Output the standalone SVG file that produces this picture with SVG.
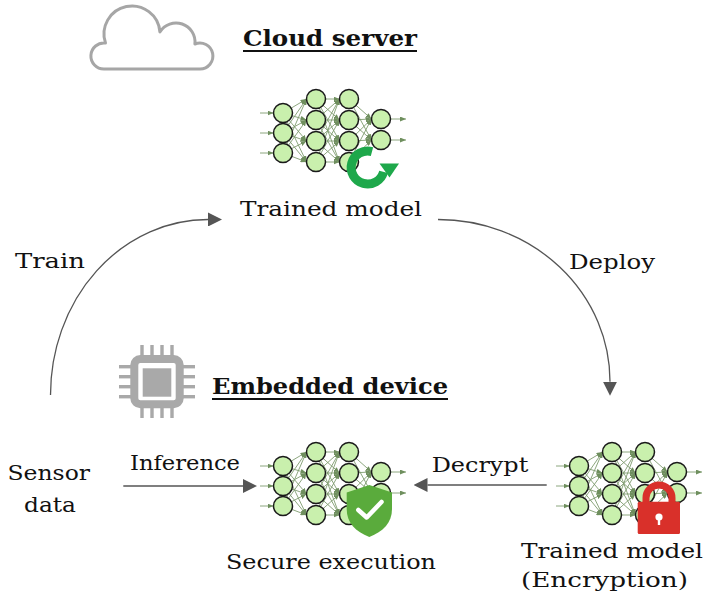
<svg xmlns="http://www.w3.org/2000/svg" xmlns:xlink="http://www.w3.org/1999/xlink" width="706" height="601" viewBox="0 0 706 601">
  <style>
    .lbl { font-family: "DejaVu Serif", "Liberation Serif", serif; font-size: 21px; fill: #111; }
    .ttl { font-family: "DejaVu Serif", "Liberation Serif", serif; font-size: 23px; font-weight: bold; fill: #111; }
    .uline { stroke: #111; stroke-width: 1.8; }
    .conn { fill: none; stroke: #555; stroke-width: 1.3; }
    .edge { stroke: #7f9c6f; stroke-width: 0.9; marker-end: url(#nnHead); }
    .neuron { fill: #c9f0ad; stroke: #1a1a1a; stroke-width: 1.5; }
    .icon { fill: #a9a9a9; }
  </style>
  <defs>
    <marker id="head" markerUnits="userSpaceOnUse" markerWidth="14" markerHeight="14" refX="0" refY="7" orient="auto">
      <path d="M0,0 L14,7 L0,14 Z" fill="#555"/>
    </marker>
    <marker id="nnHead" markerUnits="userSpaceOnUse" markerWidth="6" markerHeight="5" refX="6" refY="2.5" orient="auto">
      <path d="M0,0 L6,2.5 L0,5 Z" fill="#6f8f5e"/>
    </marker>
    <!-- small fully connected network: 3-4-4-2 -->
    <g id="net">
      <!-- inputs -->
      <line class="edge" x1="260" y1="113" x2="273.5" y2="113"/>
      <line class="edge" x1="260" y1="133" x2="273.5" y2="133"/>
      <line class="edge" x1="260" y1="153" x2="273.5" y2="153"/>
      <!-- layer 1 to layer 2 -->
      <line class="edge" x1="283" y1="113" x2="306.5" y2="99"/>
      <line class="edge" x1="283" y1="113" x2="306.5" y2="120"/>
      <line class="edge" x1="283" y1="113" x2="306.5" y2="141"/>
      <line class="edge" x1="283" y1="113" x2="306.5" y2="162"/>
      <line class="edge" x1="283" y1="133" x2="306.5" y2="99"/>
      <line class="edge" x1="283" y1="133" x2="306.5" y2="120"/>
      <line class="edge" x1="283" y1="133" x2="306.5" y2="141"/>
      <line class="edge" x1="283" y1="133" x2="306.5" y2="162"/>
      <line class="edge" x1="283" y1="153" x2="306.5" y2="99"/>
      <line class="edge" x1="283" y1="153" x2="306.5" y2="120"/>
      <line class="edge" x1="283" y1="153" x2="306.5" y2="141"/>
      <line class="edge" x1="283" y1="153" x2="306.5" y2="162"/>
      <!-- layer 2 to layer 3 -->
      <line class="edge" x1="316" y1="99" x2="339.5" y2="99"/>
      <line class="edge" x1="316" y1="99" x2="339.5" y2="120"/>
      <line class="edge" x1="316" y1="99" x2="339.5" y2="141"/>
      <line class="edge" x1="316" y1="99" x2="339.5" y2="162"/>
      <line class="edge" x1="316" y1="120" x2="339.5" y2="99"/>
      <line class="edge" x1="316" y1="120" x2="339.5" y2="120"/>
      <line class="edge" x1="316" y1="120" x2="339.5" y2="141"/>
      <line class="edge" x1="316" y1="120" x2="339.5" y2="162"/>
      <line class="edge" x1="316" y1="141" x2="339.5" y2="99"/>
      <line class="edge" x1="316" y1="141" x2="339.5" y2="120"/>
      <line class="edge" x1="316" y1="141" x2="339.5" y2="141"/>
      <line class="edge" x1="316" y1="141" x2="339.5" y2="162"/>
      <line class="edge" x1="316" y1="162" x2="339.5" y2="99"/>
      <line class="edge" x1="316" y1="162" x2="339.5" y2="120"/>
      <line class="edge" x1="316" y1="162" x2="339.5" y2="141"/>
      <line class="edge" x1="316" y1="162" x2="339.5" y2="162"/>
      <!-- layer 3 to layer 4 -->
      <line class="edge" x1="349" y1="99" x2="371.5" y2="119"/>
      <line class="edge" x1="349" y1="99" x2="371.5" y2="140"/>
      <line class="edge" x1="349" y1="120" x2="371.5" y2="119"/>
      <line class="edge" x1="349" y1="120" x2="371.5" y2="140"/>
      <line class="edge" x1="349" y1="141" x2="371.5" y2="119"/>
      <line class="edge" x1="349" y1="141" x2="371.5" y2="140"/>
      <line class="edge" x1="349" y1="162" x2="371.5" y2="119"/>
      <line class="edge" x1="349" y1="162" x2="371.5" y2="140"/>
      <!-- outputs -->
      <line class="edge" x1="390.5" y1="119" x2="406" y2="119"/>
      <line class="edge" x1="390.5" y1="140" x2="406" y2="140"/>
      <!-- neurons -->
      <circle class="neuron" cx="283" cy="113" r="9.5"/>
      <circle class="neuron" cx="283" cy="133" r="9.5"/>
      <circle class="neuron" cx="283" cy="153" r="9.5"/>
      <circle class="neuron" cx="316" cy="99" r="9.5"/>
      <circle class="neuron" cx="316" cy="120" r="9.5"/>
      <circle class="neuron" cx="316" cy="141" r="9.5"/>
      <circle class="neuron" cx="316" cy="162" r="9.5"/>
      <circle class="neuron" cx="349" cy="99" r="9.5"/>
      <circle class="neuron" cx="349" cy="120" r="9.5"/>
      <circle class="neuron" cx="349" cy="141" r="9.5"/>
      <circle class="neuron" cx="349" cy="162" r="9.5"/>
      <circle class="neuron" cx="381" cy="119" r="9.5"/>
      <circle class="neuron" cx="381" cy="140" r="9.5"/>
    </g>
  </defs>

  <rect width="706" height="601" fill="#fff"/>

  <!-- cloud side -->
  <g id="cloud-server">
    <path d="M104,69 A13,13 0 1 1 105.5,43.1 A28,28 0 1 1 159.9,31.9 A19,19 0 0 1 194.9,44 A13,13 0 1 1 200,69 Z" fill="none" stroke="#a6a6a6" stroke-width="3" stroke-linejoin="round"/>
    <text class="ttl" x="243" y="46" textLength="174" lengthAdjust="spacingAndGlyphs">Cloud server</text>
    <line class="uline" x1="243" y1="51" x2="417" y2="51"/>
  </g>

  <g id="trained-model">
    <use xlink:href="#net"/>
    <!-- update / refresh badge -->
    <path d="M372,151.6 A16.5,16.5 0 1 0 383.6,171.8" fill="none" stroke="#1ea84b" stroke-width="9"/>
    <path d="M379.5,163.5 L399,163.5 L389.5,177.5 Z" fill="#1ea84b"/>
    <!-- labels use a slightly widened serif face -->
    <g transform="scale(1.15,1)">
      <text class="lbl" x="208.7" y="216" textLength="158.3" lengthAdjust="spacingAndGlyphs">Trained model</text>
    </g>
  </g>

  <!-- device side -->
  <g id="embedded-device">
    <g class="icon">
      <rect x="134.3" y="359" width="45.4" height="45.3" rx="6" fill="none" stroke="#a9a9a9" stroke-width="8"/>
      <rect x="142.7" y="368.3" width="28.6" height="28.4"/>
      <rect x="140.3" y="345" width="3.4" height="11"/>
      <rect x="150.3" y="345" width="3.4" height="11"/>
      <rect x="160.3" y="345" width="3.4" height="11"/>
      <rect x="170.3" y="345" width="3.4" height="11"/>
      <rect x="140.3" y="407" width="3.4" height="11"/>
      <rect x="150.3" y="407" width="3.4" height="11"/>
      <rect x="160.3" y="407" width="3.4" height="11"/>
      <rect x="170.3" y="407" width="3.4" height="11"/>
      <rect x="119" y="365" width="12" height="3.4"/>
      <rect x="119" y="375" width="12" height="3.4"/>
      <rect x="119" y="385" width="12" height="3.4"/>
      <rect x="119" y="395" width="12" height="3.4"/>
      <rect x="183" y="365" width="12" height="3.4"/>
      <rect x="183" y="375" width="12" height="3.4"/>
      <rect x="183" y="385" width="12" height="3.4"/>
      <rect x="183" y="395" width="12" height="3.4"/>
    </g>
    <text class="ttl" x="212" y="394" textLength="236" lengthAdjust="spacingAndGlyphs">Embedded device</text>
    <line class="uline" x1="212" y1="399" x2="448" y2="399"/>
  </g>

  <g id="sensor-data">
    <g transform="scale(1.15,1)">
      <text class="lbl" x="6.52" y="480" textLength="71.74" lengthAdjust="spacingAndGlyphs">Sensor</text>
      <text class="lbl" x="20.87" y="512.5" textLength="45.22" lengthAdjust="spacingAndGlyphs">data</text>
    </g>
  </g>

  <g id="secure-execution">
    <use xlink:href="#net" transform="translate(0,353)"/>
    <!-- shield with check -->
    <path d="M369.3,485 L392,492.5 V509 C392,523 383,531.5 369.3,537 C355.6,531.5 346.7,523 346.7,509 V492.5 Z" fill="#5aab3c"/>
    <path d="M358.3,510 L366.7,517.5 L381.5,502" fill="none" stroke="#fff" stroke-width="4.5" stroke-linecap="round" stroke-linejoin="round"/>
    <g transform="scale(1.15,1)">
      <text class="lbl" x="196.52" y="569" textLength="182.6" lengthAdjust="spacingAndGlyphs">Secure execution</text>
    </g>
  </g>

  <g id="encrypted-model">
    <use xlink:href="#net" transform="translate(296,353)"/>
    <!-- padlock -->
    <path d="M646,503 V498 A13,13 0 0 1 672,498 V503" fill="none" stroke="#d9302a" stroke-width="7"/>
    <rect x="637.7" y="501.7" width="42.3" height="32.3" rx="1.5" fill="#d9302a"/>
    <circle cx="659" cy="517" r="3.6" fill="#fff"/>
    <rect x="657.8" y="517" width="2.4" height="8" fill="#fff"/>
    <g transform="scale(1.15,1)">
      <text class="lbl" x="453.04" y="558" textLength="158.3" lengthAdjust="spacingAndGlyphs">Trained model</text>
      <text class="lbl" x="453.04" y="587" textLength="145.2" lengthAdjust="spacingAndGlyphs">(Encryption)</text>
    </g>
  </g>

  <!-- connectors -->
  <g id="connectors">
    <path class="conn" d="M50.5,395 A157.5,175.5 0 0 1 208,219.5" marker-end="url(#head)"/>
    <path class="conn" d="M438,219.5 A172,162 0 0 1 610,381.7" marker-end="url(#head)"/>
    <line class="conn" x1="123.3" y1="486" x2="243" y2="486" marker-end="url(#head)"/>
    <line class="conn" x1="546.7" y1="485" x2="427.5" y2="485" marker-end="url(#head)"/>
    <g transform="scale(1.15,1)">
      <text class="lbl" x="13.04" y="268" textLength="60.87" lengthAdjust="spacingAndGlyphs">Train</text>
      <text class="lbl" x="494.78" y="269" textLength="74.78" lengthAdjust="spacingAndGlyphs">Deploy</text>
      <text class="lbl" x="113.04" y="470" textLength="95.65" lengthAdjust="spacingAndGlyphs">Inference</text>
      <text class="lbl" x="375.39" y="471.7" textLength="84" lengthAdjust="spacingAndGlyphs">Decrypt</text>
    </g>
  </g>
</svg>
